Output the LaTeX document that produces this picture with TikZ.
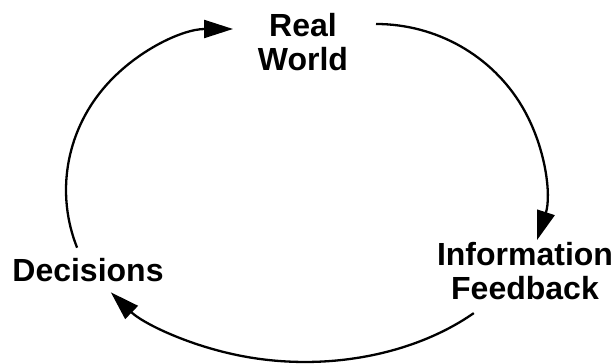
\documentclass[tikz,border=0pt]{standalone}
\usepackage{fontspec}
\setmainfont{Liberation Sans}
\usetikzlibrary{arrows.meta}

\begin{document}
\begin{tikzpicture}[x=1pt,y=1pt,
 label/.style={font=\bfseries\fontsize{32}{34}\selectfont,align=center,inner sep=0pt},
 flow/.style={line width=2.3pt,-{Triangle[length=29pt,width=18pt]}}]
\useasboundingbox (0,0) rectangle (613,364);
\node[label] (real) at (303,321.5) {Real\\World};
\node[label] (info) at (525,92.5) {Information\\Feedback};
\node[label] (dec) at (88,94) {Decisions};
% feedback loop
\coordinate (decout) at (77.1,116.3);
\coordinate (realout) at (376,340);
\coordinate (infoout) at (473.8,50.9);
\draw[flow] (decout) arc[start angle=201,end angle=90,x radius=167,y radius=161];
\draw[flow] (realout) arc[start angle=90,end angle=-17.5,x radius=169,y radius=166];
\draw[flow] (infoout) arc[start angle=-45.3,end angle=-144,x radius=240,y radius=169];
\end{tikzpicture}
\end{document}
